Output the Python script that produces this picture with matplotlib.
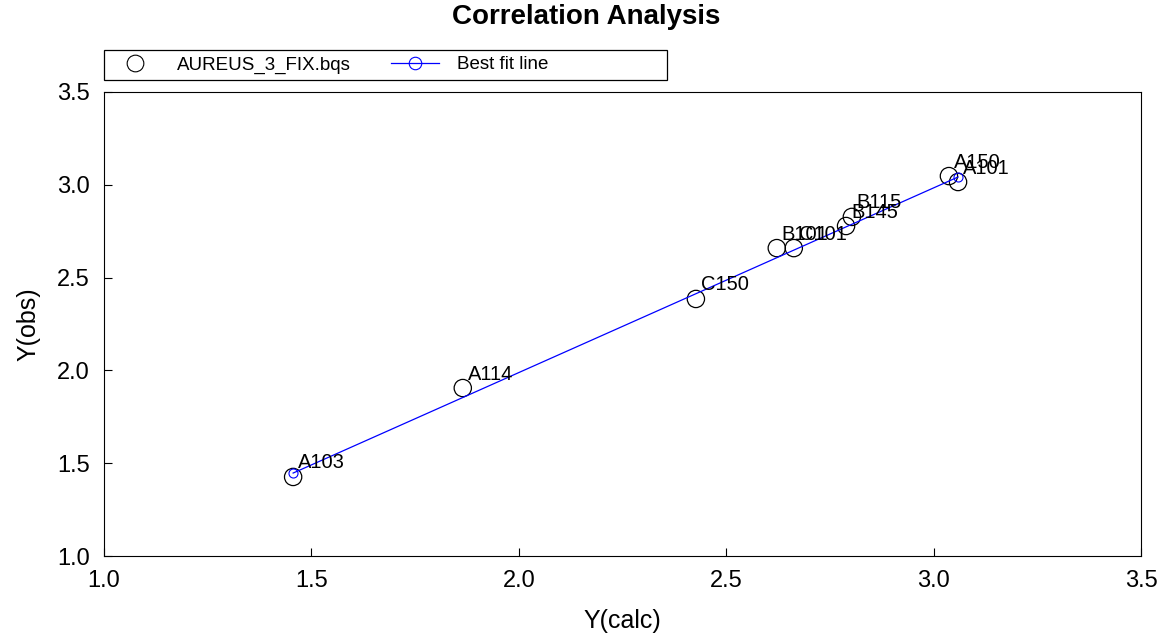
import matplotlib
matplotlib.use("Agg")
import matplotlib.pyplot as plt
from matplotlib.lines import Line2D
from matplotlib.patches import Rectangle

plt.rcParams['font.family'] = ['Liberation Sans', 'DejaVu Sans']

# Data
compounds = ['A103', 'A114', 'C150', 'B101', 'C101', 'B145', 'B115', 'A150', 'A101']
y_calc = [1.456, 1.865, 2.427, 2.622, 2.663, 2.789, 2.803, 3.037, 3.059]
y_obs = [1.426, 1.905, 2.385, 2.659, 2.659, 2.778, 2.827, 3.047, 3.015]
fit_x = [1.456, 3.059]
fit_y = [1.447, 3.042]
x_ticks = [1.0, 1.5, 2.0, 2.5, 3.0, 3.5]
y_ticks = [1.0, 1.5, 2.0, 2.5, 3.0, 3.5]

fig = plt.figure(figsize=(11.67, 6.38), dpi=100)
ax = fig.add_axes([0.0891, 0.1285, 0.8886, 0.7273])

ax.plot(fit_x, fit_y, color='blue', lw=0.9, marker='o', ms=6.5, mfc='none',
        mec='blue', mew=0.8, zorder=3)
ax.scatter(y_calc, y_obs, s=155, facecolors='none', edgecolors='black',
           linewidths=0.9, zorder=2)
for name, x, y in zip(compounds, y_calc, y_obs):
    ax.annotate(name, (x, y), xytext=(5, 14), textcoords='offset pixels',
                ha='left', va='center', fontsize=14.5)

ax.set_xlim(1.0, 3.5)
ax.set_ylim(1.0, 3.5)
ax.set_xticks(x_ticks)
ax.set_yticks(y_ticks)
ax.set_xticklabels([f'{v:.1f}' for v in x_ticks])
ax.set_yticklabels([f'{v:.1f}' for v in y_ticks])
ax.tick_params(direction='in', length=6, width=0.8, labelsize=17, pad=10)
for s in ax.spines.values():
    s.set_linewidth(0.8)

ax.set_xlabel('Y(calc)', fontsize=18, labelpad=12)
ax.set_ylabel('Y(obs)', fontsize=18, labelpad=12)
fig.text(586 / 1167, 1 - 17 / 638, 'Correlation Analysis', ha='center', va='center',
         fontsize=20, fontweight='bold')

handles = [
    Line2D([], [], ls='none', marker='o', ms=12, mfc='none', mec='black', mew=0.8),
    Line2D([], [], color='blue', lw=0.9, marker='o', ms=9, mfc='none', mec='blue', mew=0.8),
]
leg = fig.legend(handles, ['AUREUS_3_FIX.bqs', 'Best fit line'], ncol=2,
                 loc='center left', bbox_to_anchor=(111 / 1167, 1 - 65 / 638),
                 frameon=False, fontsize=13.5,
                 handlelength=2.56, handletextpad=0.96, columnspacing=2.13,
                 borderpad=0, borderaxespad=0)
fig.patches.append(Rectangle((104 / 1167, 1 - 80 / 638), 563 / 1167, 30 / 638,
                             transform=fig.transFigure, fill=False,
                             edgecolor='black', linewidth=0.9))

fig.savefig('out.png', dpi=100)
